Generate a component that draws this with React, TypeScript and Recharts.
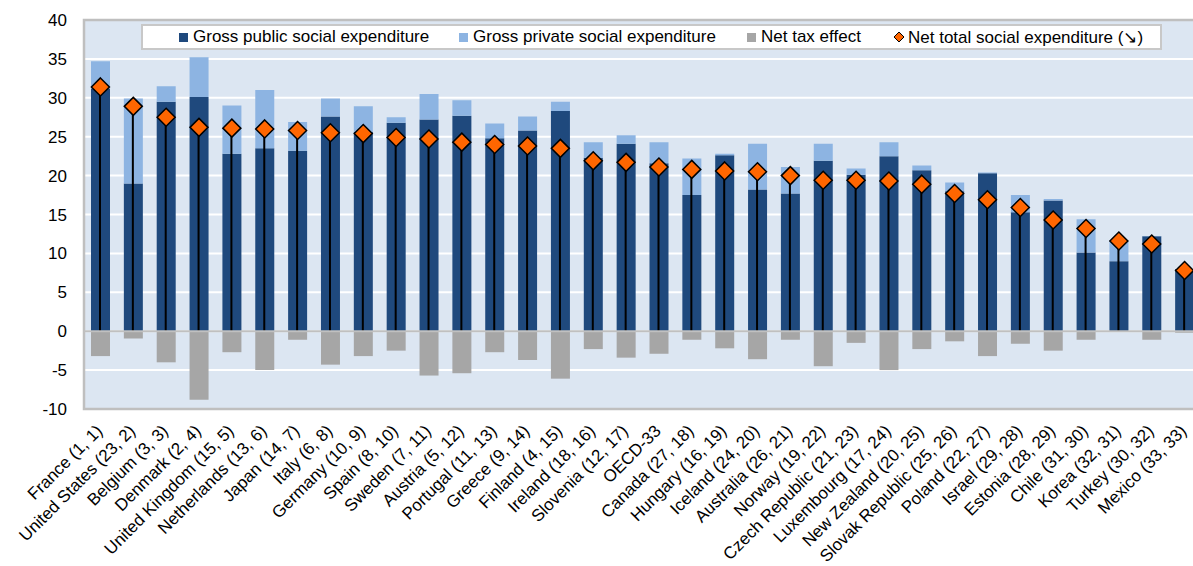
import React from "react"
import {
  ComposedChart,
  Bar,
  Scatter,
  XAxis,
  YAxis,
  CartesianGrid,
  ReferenceLine,
  ReferenceArea,
  Legend,
} from "recharts"

const countries = [
  "France (1, 1)", "United States (23, 2)", "Belgium (3, 3)", "Denmark (2, 4)",
  "United Kingdom (15, 5)", "Netherlands (13, 6)", "Japan (14, 7)", "Italy (6, 8)",
  "Germany (10, 9)", "Spain (8, 10)", "Sweden (7, 11)", "Austria (5, 12)",
  "Portugal (11, 13)", "Greece (9, 14)", "Finland (4, 15)", "Ireland (18, 16)",
  "Slovenia (12, 17)", "OECD-33", "Canada (27, 18)", "Hungary (16, 19)",
  "Iceland (24, 20)", "Australia (26, 21)", "Norway (19, 22)", "Czech Republic (21, 23)",
  "Luxembourg (17, 24)", "New Zealand (20, 25)", "Slovak Republic (25, 26)", "Poland (22, 27)",
  "Israel (29, 28)", "Estonia (28, 29)", "Chile (31, 30)", "Korea (32, 31)",
  "Turkey (30, 32)", "Mexico (33, 33)",
]

const grossPublic = [
  31.2, 19.0, 29.5, 30.1, 22.8, 23.5, 23.2, 27.6, 25.6, 26.8, 27.2, 27.7,
  24.8, 25.8, 28.3, 22.3, 24.1, 21.6, 17.5, 22.6, 18.2, 17.7, 21.9, 20.1,
  22.5, 20.7, 18.0, 20.3, 15.3, 16.8, 10.1, 9.0, 12.2, 8.0,
]

const grossPrivate = [
  3.5, 10.9, 2.0, 5.1, 6.2, 7.5, 3.7, 2.3, 3.3, 0.7, 3.3, 2.0,
  1.9, 1.8, 1.2, 2.0, 1.1, 2.7, 4.7, 0.2, 5.9, 3.4, 2.2, 0.8,
  1.8, 0.6, 1.1, 0.1, 2.2, 0.2, 4.3, 2.7, 0.05, 0.0,
]

const netTax = [
  -3.2, -0.95, -4.0, -8.8, -2.7, -5.0, -1.1, -4.3, -3.2, -2.5, -5.7, -5.4,
  -2.7, -3.7, -6.1, -2.3, -3.4, -2.9, -1.1, -2.2, -3.6, -1.1, -4.5, -1.5,
  -5.0, -2.3, -1.3, -3.2, -1.6, -2.5, -1.1, -0.05, -1.1, -0.2,
]

const netTotal = [
  31.4, 28.9, 27.5, 26.2, 26.1, 26.0, 25.8, 25.5, 25.4, 24.9, 24.7, 24.3,
  24.0, 23.8, 23.5, 21.9, 21.7, 21.1, 20.8, 20.6, 20.5, 20.0, 19.4, 19.4,
  19.3, 18.9, 17.7, 16.9, 15.9, 14.3, 13.2, 11.6, 11.2, 7.8,
]

const yTicks = [-10, -5, 0, 5, 10, 15, 20, 25, 30, 35, 40]

const seriesNames = [
  "Gross public social expenditure",
  "Gross private social expenditure",
  "Net tax effect",
  "Net total social expenditure (\u2198)",
]

const colors = {
  public: "#1F497D",
  private: "#8DB4E2",
  tax: "#A6A6A6",
  net: "#FF6600",
}

const data = countries.map((name, i) => ({
  name,
  pub: grossPublic[i],
  priv: grossPrivate[i],
  tax: netTax[i],
  net: netTotal[i],
}))

const FONT = "'Liberation Sans', Arial, sans-serif"

const Diamond = (props: any) => {
  const { cx, cy } = props
  const r = 9
  return (
    <polygon
      points={`${cx},${cy - r} ${cx + r},${cy} ${cx},${cy + r} ${cx - r},${cy}`}
      fill={colors.net}
      stroke="#000"
      strokeWidth={1.5}
    />
  )
}

const XTick = (props: any) => {
  const { x, y, payload } = props
  const tx = x + 3
  const ty = y + 21
  return (
    <text
      x={tx}
      y={ty}
      textAnchor="end"
      transform={`rotate(-45, ${tx}, ${ty})`}
      fontSize={17}
      fontFamily={FONT}
      fill="#000"
    >
      {payload.value}
    </text>
  )
}

const legendSwatch = [colors.public, colors.private, colors.tax, colors.net]
const legendLeft = [36, 316, 604, 750]

const renderLegend = () => (
  <div
    style={{
      position: "relative",
      width: 1021,
      height: 26,
      boxSizing: "border-box",
      border: "2px solid #C8C8C8",
      background: "#fff",
      fontFamily: FONT,
      fontSize: 17,
      color: "#000",
    }}
  >
    {seriesNames.map((label, i) => (
      <div
        key={label}
        style={{
          position: "absolute",
          left: legendLeft[i],
          top: 0,
          height: 22,
          display: "flex",
          alignItems: "center",
          whiteSpace: "nowrap",
        }}
      >
        {i < 3 ? (
          <span style={{ display: "inline-block", width: 9, height: 9, background: legendSwatch[i], marginRight: 5 }} />
        ) : (
          <svg width={12} height={12} style={{ marginRight: 3 }}>
            <polygon points="6,1 11,6 6,11 1,6" fill={colors.net} stroke="#000" strokeWidth={1} />
          </svg>
        )}
        <span>{label}</span>
      </div>
    ))}
  </div>
)

export default function App() {
  return (
    <div style={{ position: "absolute", left: 0, top: 0, width: 1193, height: 566, overflow: "hidden", background: "#fff" }}>
      <ComposedChart
        width={1201}
        height={566}
        data={data}
        stackOffset="sign"
        margin={{ top: 20, right: 0, left: 0, bottom: 0 }}
      >
        <CartesianGrid
          vertical={false}
          stroke="#FFFFFF"
          strokeWidth={2}
          fill="#DCE6F2"
          fillOpacity={1}
        />
        <XAxis
          dataKey="name"
          interval={0}
          axisLine={false}
          tickLine={false}
          tickSize={0}
          height={131}
          tick={<XTick />}
        />
        <XAxis xAxisId="ln" dataKey="name" hide height={0} />
        <YAxis
          domain={[-10, 40]}
          ticks={yTicks}
          allowDataOverflow
          width={84}
          axisLine={false}
          tickLine={false}
          tickSize={0}
          tickMargin={17}
          tick={{ fontSize: 17, fontFamily: FONT, fill: "#000" }}
        />
        <ReferenceLine y={0} stroke="#C0C0C0" strokeWidth={2} />
        <Bar dataKey="pub" stackId="s" fill={colors.public} barSize={19} isAnimationActive={false} />
        <Bar dataKey="priv" stackId="s" fill={colors.private} barSize={19} isAnimationActive={false} />
        <Bar dataKey="tax" stackId="s" fill={colors.tax} barSize={19} isAnimationActive={false} />
        <Bar xAxisId="ln" dataKey="net" fill="#000" barSize={2} legendType="none" isAnimationActive={false} />
        <Scatter dataKey="net" shape={<Diamond />} isAnimationActive={false} />
        <ReferenceArea y1={-10} y2={40} fill="none" stroke="#BFBFBF" strokeWidth={2.5} ifOverflow="visible" />
        <Legend
          content={renderLegend}
          wrapperStyle={{ position: "absolute", top: 24, left: 141, width: 1021, height: 26 }}
        />
      </ComposedChart>
    </div>
  )
}
